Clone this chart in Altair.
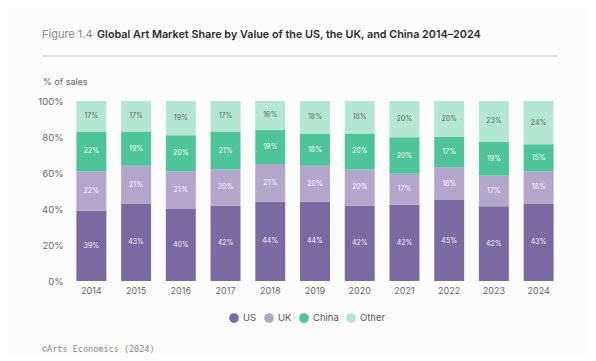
import altair as alt
import pandas as pd

years = ["2014", "2015", "2016", "2017", "2018", "2019", "2020", "2021", "2022", "2023", "2024"]
us = [39, 43, 40, 42, 44, 44, 42, 42, 45, 42, 43]
uk = [22, 21, 21, 20, 21, 20, 20, 17, 18, 17, 18]
china = [22, 19, 20, 21, 19, 18, 20, 20, 17, 19, 15]
other = [17, 17, 19, 17, 16, 18, 18, 20, 20, 23, 24]
series = ["US", "UK", "China", "Other"]
colors = ["#7a6aa2", "#b2a7cb", "#4fc49b", "#b3e7d4"]
label_colors = ["#f4f1fa", "#f7f5fb", "#f2fbf7", "#5b6b65"]
y_ticks = [0, 0.2, 0.4, 0.6, 0.8, 1.0]

rows = []
for name, vals, lc, k in zip(series, [us, uk, china, other], label_colors, range(4)):
    for y, v in zip(years, vals):
        rows.append({"year": y, "series": name, "value": v, "order": k,
                     "label": f"{v}%", "lc": lc})
df = pd.DataFrame(rows)

base = alt.Chart(df).transform_stack(
    stack="value", groupby=["year"], as_=["v0", "v1"], offset="normalize",
    sort=[alt.SortField("order", order="ascending")]
).transform_calculate(mid="(datum.v0 + datum.v1) / 2")

x_axis = alt.Axis(labelAngle=0, ticks=False, domain=False, labelFontSize=9,
                  labelColor="#666666", labelPadding=5, labelFont="Inter")
y_axis = alt.Axis(values=y_ticks, format=".0%", ticks=False, domain=False, grid=False,
                  labelFontSize=9.5, labelColor="#666666", labelPadding=6, labelFont="Inter",
                  labelOverlap=False, labelFlush=False, labelBound=False)
x_scale = alt.Scale(paddingInner=0.33, paddingOuter=0.165)
y_scale = alt.Scale(domain=[0, 1], nice=False)

bars = base.mark_bar().encode(
    x=alt.X("year:N", title=None, sort=years, scale=x_scale, axis=x_axis),
    y=alt.Y("v0:Q", title=None, scale=y_scale, axis=y_axis),
    y2="v1:Q",
    color=alt.Color("series:N", scale=alt.Scale(domain=series, range=colors),
                    legend=alt.Legend(title=None, orient="none", direction="horizontal",
                                      legendX=159, legendY=211, symbolType="circle",
                                      symbolSize=95, labelFontSize=9.5, labelColor="#555555",
                                      labelFont="Inter", columnPadding=6, labelOffset=3,
                                      symbolOpacity=1)),
)

labels = base.mark_text(fontSize=7, font="Inter").encode(
    x=alt.X("year:N", title=None, sort=years, scale=x_scale, axis=x_axis),
    y=alt.Y("mid:Q", title=None, scale=y_scale, axis=y_axis),
    text="label:N",
    color=alt.Color("lc:N", scale=None),
)

def txt(t, x, y, size, color, weight="normal", font="Inter", align="left"):
    return alt.Chart(pd.DataFrame({"t": [t]})).mark_text(
        align=align, baseline="alphabetic", fontSize=size, color=color,
        fontWeight=weight, font=font
    ).encode(x=alt.value(x), y=alt.value(y), text="t:N")

title1 = txt("Figure 1.4", -27, -63, 11, "#888888", "normal")
title2 = txt("Global Art Market Share by Value of the US, the UK, and China 2014–2024",
             28, -63, 10.8, "#2b2b2b", 600)
rule = alt.Chart(pd.DataFrame({"a": [0]})).mark_rule(color="#cccccc", strokeWidth=1).encode(
    x=alt.value(-27), x2=alt.value(489), y=alt.value(-45))
ylab = txt("% of sales", -26, -16, 9, "#666666")
footer = txt("©Arts Economics (2024)", -27, 251, 8.5, "#888888", font="DejaVu Sans Mono")

chart = alt.layer(bars, labels, title1, title2, rule, ylab, footer).properties(
    width=492, height=180,
    autosize=alt.AutoSizeParams(type="none"),
    padding={"left": 61, "top": 93, "right": 27, "bottom": 72},
    background="#fcfcfc",
).configure_view(stroke=None)

chart.save("out.html", embed_options={"renderer": "svg", "actions": False})
